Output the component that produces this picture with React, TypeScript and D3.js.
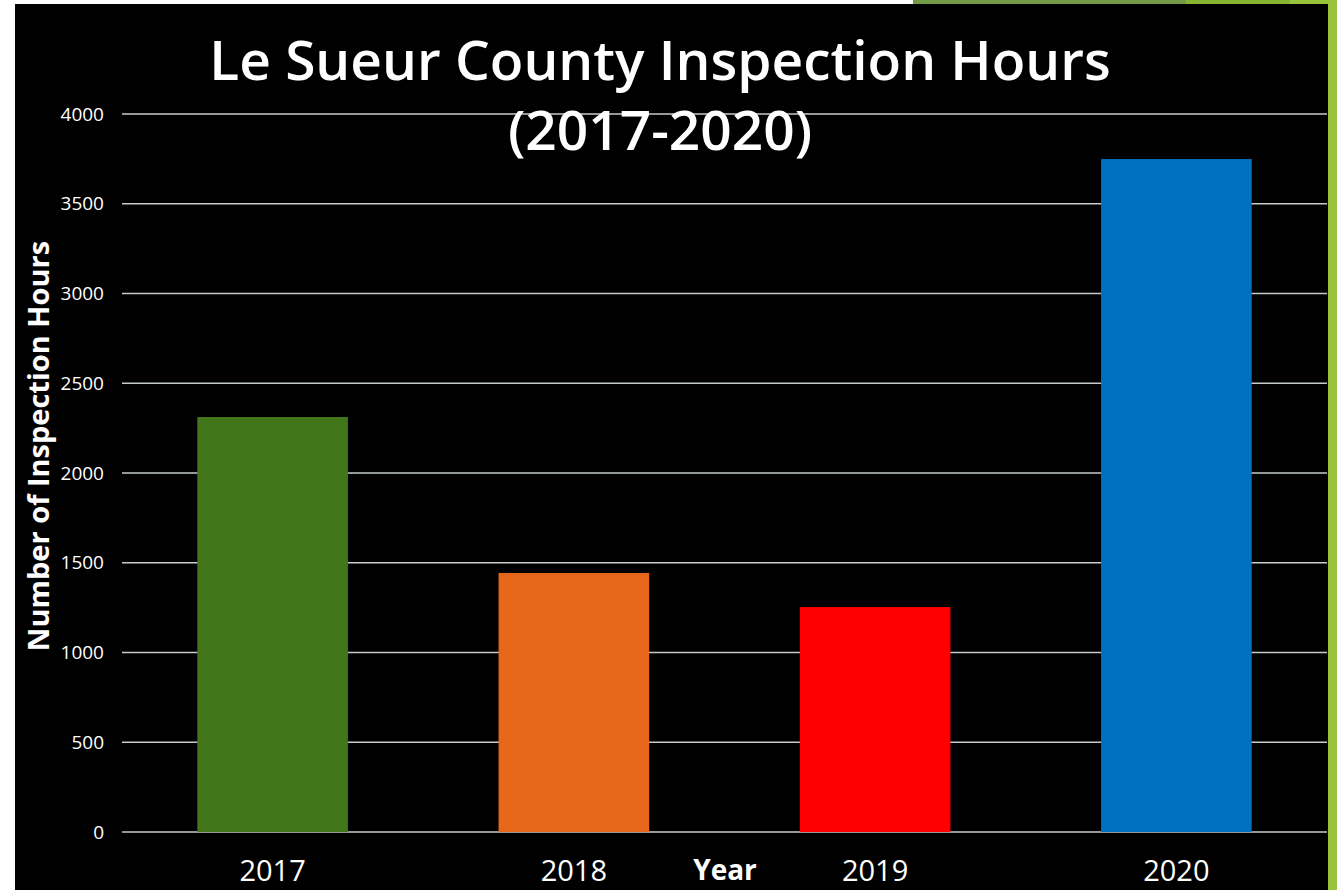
import React from 'react';
import * as d3 from 'd3';

const years = ['2017', '2018', '2019', '2020'];
const hours = [2312, 1443, 1253, 3749];
const barColors = ['#41761b', '#e6661a', '#ff0000', '#0070c0'];
const yTicks = [0, 500, 1000, 1500, 2000, 2500, 3000, 3500, 4000];

const W = 1337;
const H = 890;

export default function App() {
    const margin = { left: 122, right: 10, top: 114, bottom: 58 };
    const plotRight = 1327;
    const plotBottom = H - margin.bottom; // 832

    const x = d3.scaleBand()
        .domain(years)
        .range([margin.left, plotRight])
        .paddingInner(0.5)
        .paddingOuter(0.25);

    const y = d3.scaleLinear()
        .domain([0, 4000])
        .range([plotBottom, margin.top]);

    const font = "'Open Sans', 'DejaVu Sans', sans-serif";

    return (
        <svg width={W} height={H} style={{ position: 'absolute', left: 0, top: 0, display: 'block' }}>
            <rect x={0} y={0} width={W} height={H} fill="#ffffff" />
            {/* slide decoration */}
            <rect x={913} y={0} width={273} height={4} fill="#749c46" />
            <rect x={1186} y={0} width={104} height={4} fill="#86b532" />
            <rect x={1290} y={0} width={47} height={4} fill="#9ac33c" />
            <rect x={1328} y={4} width={9} height={H - 4} fill="#9ac33c" />
            {/* chart area */}
            <rect x={15} y={4} width={1313} height={H - 4} fill="#000000" />

            {/* gridlines + y tick labels */}
            {yTicks.map(t => (
                <g key={t}>
                    <line x1={margin.left} x2={plotRight} y1={y(t)} y2={y(t)}
                        stroke="#c4cccc" strokeWidth={1.5} />
                    <text x={104} y={y(t)} dy="0.35em" textAnchor="end"
                        fill="#ffffff" fontFamily={font} fontSize={19}>{t}</text>
                </g>
            ))}

            {/* bars */}
            {years.map((yr, i) => (
                <rect key={yr} x={x(yr)} y={y(hours[i])} width={x.bandwidth()}
                    height={plotBottom - y(hours[i])} fill={barColors[i]} />
            ))}

            {/* x labels */}
            {years.map(yr => (
                <text key={yr} x={(x(yr) as number) + x.bandwidth() / 2} y={881}
                    textAnchor="middle" fill="#ffffff" fontFamily={font} fontSize={29}>{yr}</text>
            ))}

            <text x={725} y={880} textAnchor="middle" fill="#ffffff" fontFamily={font}
                fontWeight="bold" fontSize={28}>Year</text>

            <text transform="translate(49,446) rotate(-90)" textAnchor="middle" fill="#ffffff"
                fontFamily={font} fontWeight="bold" fontSize={29}>Number of Inspection Hours</text>

            {/* title */}
            <text x={660} y={80} textAnchor="middle" fill="#ffffff" fontFamily={font}
                fontWeight="600" fontSize={55}>Le Sueur County Inspection Hours</text>
            <text x={660} y={150} textAnchor="middle" fill="#ffffff" fontFamily={font}
                fontWeight="600" fontSize={55}>(2017-2020)</text>
        </svg>
    );
}
